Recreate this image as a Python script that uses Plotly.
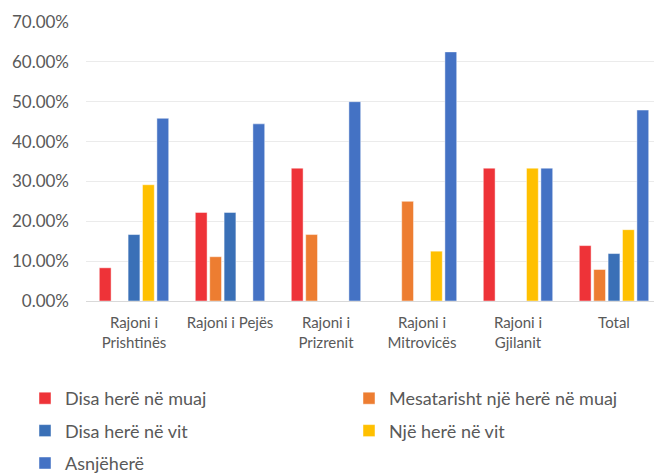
import plotly.graph_objects as go

regions = ["Rajoni i<br>Prishtinës", "Rajoni i Pejës", "Rajoni i<br>Prizrenit",
           "Rajoni i<br>Mitrovicës", "Rajoni i<br>Gjilanit", "Total"]

disa_muaj = [0.0833, 0.2222, 0.3333, None, 0.3333, 0.139]
mesatarisht_muaj = [None, 0.1111, 0.1667, 0.25, None, 0.079]
disa_vit = [0.1667, 0.2222, None, None, None, 0.119]
nje_vit = [0.2917, None, None, 0.125, 0.3333, 0.179]
asnjehere = [0.4583, 0.4444, 0.50, 0.625, 0.3333, 0.479]

# name, values, colour, which legend column
series = [
    ("Disa herë në muaj", disa_muaj, "#EE3338", "legend"),
    ("Mesatarisht një herë në muaj", mesatarisht_muaj, "#ED7D31", "legend2"),
    ("Disa herë në vit", disa_vit, "#3A70B7", "legend"),
    ("Një herë në vit", nje_vit, "#FFC000", "legend2"),
    ("Asnjëherë", asnjehere, "#4472C4", "legend"),
]

fig = go.Figure()
for name, vals, color, leg in series:
    fig.add_trace(go.Bar(
        x=regions, y=vals, name=name, legend=leg, legendgroup=name,
        marker=dict(color=color, line=dict(color="rgba(255,255,255,0.45)", width=1)),
    ))

leg_style = dict(
    xref="container", yref="container", xanchor="left", yanchor="top",
    orientation="v", font=dict(size=18, color="#595959"),
    tracegroupgap=6, bgcolor="rgba(0,0,0,0)", itemwidth=30,
)

# page body has an 8px margin, so the figure is offset by 8px right/down
fig.update_layout(
    width=662, height=475,
    barmode="group", bargap=0.25, bargroupgap=0.18,
    plot_bgcolor="white", paper_bgcolor="white",
    margin=dict(l=78, r=8, t=14, b=182, autoexpand=False),
    font=dict(family="Lato", color="#595959", size=15),
    legend=dict(x=17 / 662, y=1 - 372 / 475, **leg_style),
    legend2=dict(x=341 / 662, y=1 - 372 / 475, **leg_style),
    xaxis=dict(showline=True, linecolor="#D9D9D9", linewidth=1, automargin=False,
               tickfont=dict(size=15), ticks="", ticklabelstandoff=8),
    yaxis=dict(range=[0, 0.7], dtick=0.1, tickformat=".2%", automargin=False,
               gridcolor="#EBEBEB", gridwidth=1, zeroline=False,
               tickfont=dict(size=17), ticklabelstandoff=16),
)

fig.write_html("out.html")
